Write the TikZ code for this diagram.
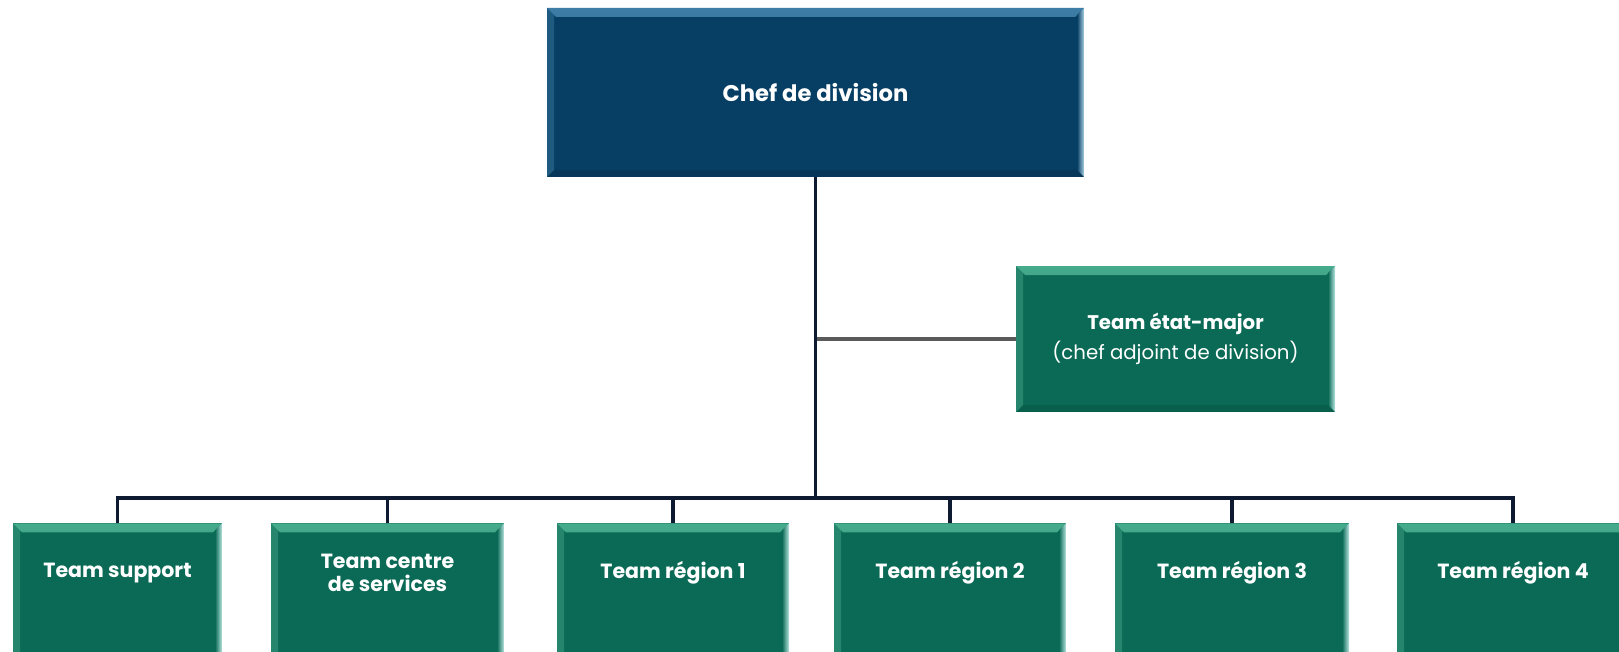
\documentclass[tikz,border=0pt]{standalone}
\usepackage{fontspec}
\setmainfont{Poppins}
\usetikzlibrary{positioning}

\definecolor{chefblue}{RGB}{7,62,99}
\definecolor{chefedge}{RGB}{62,125,165}
\definecolor{chefrim}{RGB}{170,210,230}
\definecolor{teamgreen}{RGB}{10,106,85}
\definecolor{teamedge}{RGB}{70,170,140}
\definecolor{teamrim}{RGB}{185,230,225}
\definecolor{linenavy}{RGB}{14,26,50}
\definecolor{staffgray}{RGB}{90,90,90}

\newcommand{\cheffont}{\bfseries\fontsize{17}{20}\selectfont}
\newcommand{\teamfont}{\bfseries\fontsize{15.4}{17}\selectfont}

\tikzset{
  % bevelled box: #1 fill, #2 top edge, #3 right rim
  bevel/.style n args={3}{fill=#1, path picture={
      \def\pb{path picture bounding box}
      \shade[top color=#2, bottom color=#1] (\pb.north west) -- (\pb.north east)
        -- ([shift={(-9,9)}]\pb.north east) -- ([shift={(9,9)}]\pb.north west) -- cycle;
      \shade[left color=#1, right color=#3] (\pb.north east) -- (\pb.south east)
        -- ([shift={(-7,-7)}]\pb.south east) -- ([shift={(-7,7)}]\pb.north east) -- cycle;
      \fill[#2, opacity=0.45] (\pb.north west) -- ([shift={(7,7)}]\pb.north west)
        -- ([shift={(7,-7)}]\pb.south west) -- (\pb.south west) -- cycle;
      \fill[black, opacity=0.1] (\pb.south west) -- ([shift={(7,-7)}]\pb.south west)
        -- ([shift={(-7,-7)}]\pb.south east) -- (\pb.south east) -- cycle;
  }},
  chefbox/.style={rectangle, bevel={chefblue}{chefedge}{chefrim}, text=white,
    font=\cheffont, minimum width=537*0.75pt, minimum height=169*0.75pt},
  staffbox/.style={rectangle, bevel={teamgreen}{teamedge}{teamrim}, text=white,
    font=\fontsize{14.8}{22.5}\selectfont, align=center,
    minimum width=319*0.75pt, minimum height=146*0.75pt},
  teambox/.style={rectangle, bevel={teamgreen}{teamedge}{teamrim}, anchor=north,
    minimum width=232*0.75pt, minimum height=170*0.75pt},
  teamtxt/.style={text=white, font=\teamfont, align=center, anchor=center, yshift=-37.5pt},
  link/.style={draw=linenavy, line width=2.4pt},
  staffline/.style={draw=staffgray, line width=2.5pt}
}

\begin{document}
\begin{tikzpicture}[x=0.75pt,y=-0.75pt]
  \clip (0,0) rectangle (1619,652);
  \fill[white] (0,0) rectangle (1619,652);

  % head of division
  \node[chefbox] (chef) at (815.5,92.5) {Chef de division};

  % staff
  \node[staffbox] (em) at (1175.5,339) {\textbf{Team état-major}\\(chef adjoint de division)};

  % teams
  \node[teambox, minimum width=209*0.75pt, label={[teamtxt]north:Team support}] (sup) at (117.5,523) {};
  \node[teambox, minimum width=233*0.75pt, label={[teamtxt]north:Team centre\\de services}] (csv) at (387.5,523) {};
  \node[teambox, label={[teamtxt]north:Team région 1}] (reg1) at (673,523) {};
  \node[teambox, label={[teamtxt]north:Team région 2}] (reg2) at (950,523) {};
  \node[teambox, minimum width=234*0.75pt, label={[teamtxt]north:Team région 3}] (reg3) at (1232,523) {};
  \node[teambox, label={[teamtxt]north:Team région 4}] (reg4) at (1513,523) {};

  % lines
  \coordinate (bus) at (815.5,498);
  \draw[staffline] (chef.south |- em.west) -- (em.west);
  \draw[link] (chef.south) -- (bus);
  \draw[link] (sup.north) |- (bus) -| (reg4.north);
  \draw[link] (csv.north) -- (csv.north |- bus);
  \draw[link] (reg1.north) -- (reg1.north |- bus);
  \draw[link] (reg2.north) -- (reg2.north |- bus);
  \draw[link] (reg3.north) -- (reg3.north |- bus);
\end{tikzpicture}
\end{document}
